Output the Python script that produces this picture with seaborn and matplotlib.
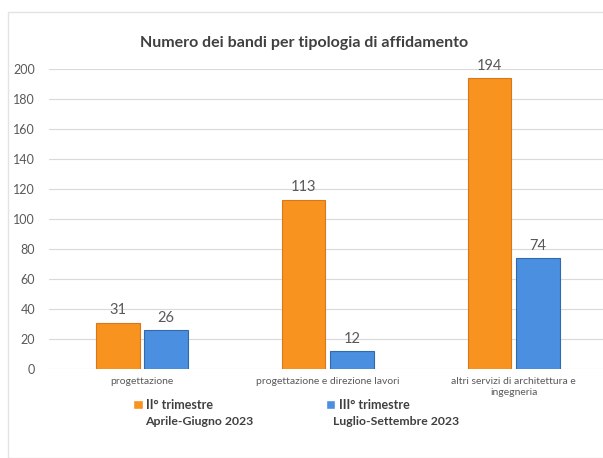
"""
Numero dei bandi per tipologia di affidamento (II vs III trimestre 2023)
"""

import matplotlib
matplotlib.use('Agg')
import matplotlib.pyplot as plt
import matplotlib.patches as mpatches
import seaborn as sns
import pandas as pd


# Data
categories = ['progettazione',
              'progettazione e direzione lavori',
              'altri servizi di architettura e\ningegneria']
series = ['II° trimestre', 'III° trimestre']
periods = ['Aprile-Giugno 2023', 'Luglio-Settembre 2023']
q2_values = [31, 113, 194]
q3_values = [26, 12, 74]
y_ticks = [0, 20, 40, 60, 80, 100, 120, 140, 160, 180, 200]

# Style
orange = '#F7931E'
orange_edge = '#D9771A'
blue = '#4A8FE0'
blue_edge = '#3568A8'
grey_text = '#595959'


def build_frame():
    """
    Long format DataFrame for seaborn
    """
    rows = []
    for cat, v in zip(categories, q2_values):
        rows.append({'cat': cat, 'serie': series[0], 'n': v})
    for cat, v in zip(categories, q3_values):
        rows.append({'cat': cat, 'serie': series[1], 'n': v})
    return pd.DataFrame(rows)


def main():
    sns.set_style('white')
    plt.rcParams['font.family'] = ['Lato', 'DejaVu Sans']

    df = build_frame()

    fig = plt.figure(figsize=(6.03, 4.58), dpi=100)
    ax = fig.add_axes([0.0813, 0.194, 0.925, 0.655])

    # Outer chart frame
    fig.patches.append(mpatches.Rectangle((8 / 603, 0.0), 1.0, 1 - 12 / 458,
                                          transform=fig.transFigure,
                                          fill=False, edgecolor='#E3E3E3',
                                          linewidth=1.0))

    sns.barplot(data=df, x='cat', y='n', hue='serie', order=categories,
                hue_order=series, palette=[orange, blue], width=0.52,
                gap=0.1, saturation=1, ax=ax, legend=True)

    # Bar edges
    n = len(categories)
    for i, bar in enumerate(ax.patches[:2 * n]):
        bar.set_edgecolor(orange_edge if i < n else blue_edge)
        bar.set_linewidth(0.8)

    # Value labels
    for cont in ax.containers:
        ax.bar_label(cont, padding=4, color=grey_text, fontsize=10.5)

    # Axes
    ax.set_ylim(0, 200)
    ax.set_xlim(-0.5, 2.5)
    ax.set_yticks(y_ticks)
    ax.set_ylabel('')
    ax.set_xlabel('')
    ax.grid(axis='y', color='#D9D9D9', linewidth=0.8)
    ax.set_axisbelow(True)
    for s in ax.spines.values():
        s.set_visible(False)
    ax.tick_params(axis='y', labelsize=9, labelcolor=grey_text, length=0,
                   pad=10)
    ax.tick_params(axis='x', labelsize=7.5, labelcolor=grey_text, length=0,
                   pad=6)

    # Legend below the plot (first line), period as second line
    handles, labels = ax.get_legend_handles_labels()
    ax.get_legend().remove()
    leg = fig.legend(handles, labels, ncol=2, loc='center left',
                     bbox_to_anchor=(0.221, 0.116), frameon=False,
                     handlelength=0.75, handleheight=0.75, handletextpad=0.3,
                     columnspacing=9.0, borderpad=0, borderaxespad=0,
                     prop={'size': 9, 'weight': 'bold'})
    for t in leg.get_texts():
        t.set_color('#404040')
    for x, p in zip([145 / 603, 333 / 603], periods):
        fig.text(x, 0.079, p, ha='left', va='center', fontsize=8.8,
                 fontweight='bold', color='#404040')

    # Title
    fig.text(0.505, 0.907, 'Numero dei bandi per tipologia di affidamento',
             ha='center', va='center', fontsize=11.5, fontweight='bold',
             color='#404040')

    fig.savefig('out.png', dpi=100)
    plt.close(fig)


if __name__ == '__main__':
    main()
